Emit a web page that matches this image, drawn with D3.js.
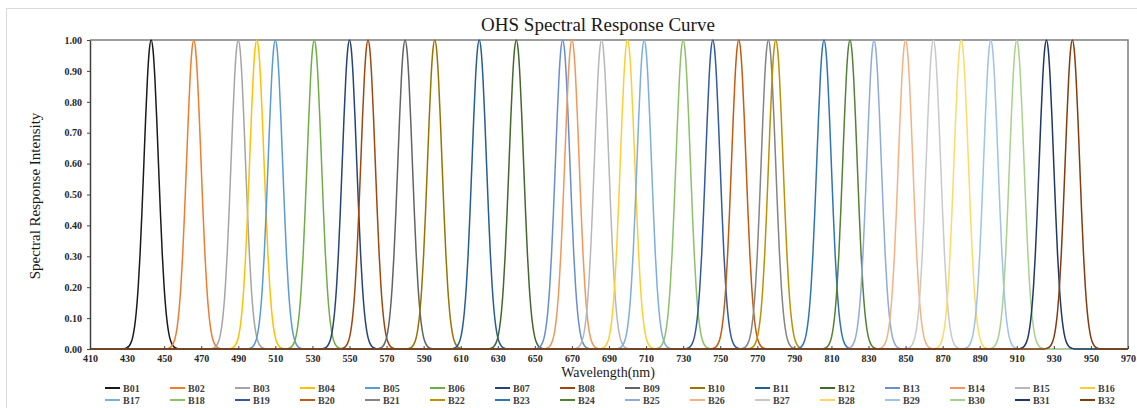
<!DOCTYPE html>
<html>
<head>
<meta charset="utf-8">
<script src="https://cdn.jsdelivr.net/npm/d3@7"></script>
<style>
  body { margin: 0; background: #fff; }
  text { font-family: "Liberation Serif", "Times New Roman", serif; }
</style>
</head>
<body>
<svg id="chart" width="1137" height="408"></svg>
<script>
const bands = ['B01','B02','B03','B04','B05','B06','B07','B08','B09','B10','B11','B12','B13','B14','B15','B16',
               'B17','B18','B19','B20','B21','B22','B23','B24','B25','B26','B27','B28','B29','B30','B31','B32'];
// peak wavelength of each band (nm)
const centers = [443, 466, 490, 500, 510, 531, 550, 560, 580, 596, 620, 640, 665, 670, 686, 700,
                 709, 730, 746, 760, 776, 780, 806, 820, 833, 850, 865, 880, 896, 910, 926, 940];
const colors = ['#1a1a1a','#ed7d31','#a5a5a5','#ffc000','#5b9bd5','#70ad47','#264478','#9e480e',
                '#636363','#997300','#255e91','#43682b','#698ed0','#f1975a','#b7b7b7','#ffcd33',
                '#7cafdd','#8cc168','#335aa1','#c55a11','#848484','#bf9000','#2e75b6','#548235',
                '#8faadc','#f4b183','#c9c9c9','#ffd966','#9dc3e6','#a9d18e','#203864','#843c0c'];
// shared response shape: offset from the peak (nm) and relative response
const profileOffsets = [-15,-14,-13,-12,-11,-10,-9,-8,-7,-6,-5,-4,-3,-2,-1,0,1,2,3,4,5,6,7,8,9,10,11,12,13,14,15];
const profileValues  = [0,0.002,0.004,0.009,0.019,0.037,0.07,0.122,0.2,0.306,0.44,0.591,0.744,0.877,0.968,1,
                        0.968,0.877,0.744,0.591,0.44,0.306,0.2,0.122,0.07,0.037,0.019,0.009,0.004,0.002,0];
const xTicks = [410,430,450,470,490,510,530,550,570,590,610,630,650,670,690,710,730,750,770,790,810,830,850,870,890,910,930,950,970];
const yTicks = [0,0.1,0.2,0.3,0.4,0.5,0.6,0.7,0.8,0.9,1.0];
const xDomain = [410, 970];

const svg = d3.select('#chart');
const plotLeft = 90, plotRight = 1128, plotTop = 40, plotBottom = 349;

// outer chart border
svg.append('rect')
  .attr('x', 6.5).attr('y', 8.5)
  .attr('width', 1140).attr('height', 410)
  .attr('fill', 'none')
  .attr('stroke', '#d9d9d9');

const x = d3.scaleLinear().domain(xDomain).range([plotLeft, plotRight]);
const y = d3.scaleLinear().domain([0, 1]).range([plotBottom, plotTop]);

// plot frame top/right
svg.append('path')
  .attr('d', `M${plotLeft},${plotTop}H${plotRight}V${plotBottom}`)
  .attr('fill', 'none')
  .attr('stroke', '#7f7f7f')
  .attr('stroke-width', 1.5);

const line = d3.line()
  .x(d => x(d[0]))
  .y(d => y(d[1]))
  .curve(d3.curveMonotoneX);

bands.forEach((b, i) => {
  const pts = [[xDomain[0], 0]];
  profileOffsets.forEach((o, j) => pts.push([centers[i] + o, profileValues[j]]));
  pts.push([xDomain[1], 0]);
  svg.append('path')
    .datum(pts)
    .attr('d', line)
    .attr('fill', 'none')
    .attr('stroke', colors[i])
    .attr('stroke-width', 1.5);
});

// y axis
const yAxis = svg.append('g')
  .attr('transform', `translate(${plotLeft},0)`)
  .call(d3.axisLeft(y).tickValues(yTicks).tickFormat(d3.format('.2f')).tickSize(3).tickSizeOuter(0).tickPadding(5));
yAxis.select('.domain').attr('stroke', '#404040').attr('stroke-width', 1.5);
yAxis.selectAll('.tick line').attr('stroke', '#404040');
yAxis.selectAll('text')
  .attr('font-size', 10).attr('font-weight', 'bold').attr('fill', '#262626');

// x axis (ticks point inward)
const xAxis = svg.append('g')
  .attr('transform', `translate(0,${plotBottom})`)
  .call(d3.axisBottom(x).tickValues(xTicks).tickSize(-3).tickSizeOuter(0).tickPadding(6));
xAxis.select('.domain').remove();
xAxis.selectAll('.tick line').attr('stroke', '#404040');
xAxis.selectAll('text')
  .attr('font-size', 10).attr('font-weight', 'bold').attr('fill', '#262626');

// titles
svg.append('text')
  .attr('x', 598).attr('y', 31)
  .attr('text-anchor', 'middle')
  .attr('font-size', 19)
  .attr('fill', '#1a1a1a')
  .text('OHS Spectral Response Curve');

svg.append('text')
  .attr('x', 608).attr('y', 377)
  .attr('text-anchor', 'middle')
  .attr('font-size', 14)
  .attr('fill', '#1a1a1a')
  .text('Wavelength(nm)');

svg.append('text')
  .attr('transform', 'translate(40,196) rotate(-90)')
  .attr('text-anchor', 'middle')
  .attr('font-size', 15)
  .attr('fill', '#1a1a1a')
  .text('Spectral Response Intensity');

// legend, two rows of 16
const legend = svg.append('g');
bands.forEach((b, i) => {
  const col = i % 16, row = Math.floor(i / 16);
  const lx = 105 + col * 65, ly = 388 + row * 12;
  const g = legend.append('g').attr('transform', `translate(${lx},${ly})`);
  g.append('line')
    .attr('x1', 0).attr('x2', 15)
    .attr('stroke', colors[i]).attr('stroke-width', 2);
  g.append('text')
    .attr('x', 18).attr('y', 3.5)
    .attr('font-size', 10).attr('font-weight', 'bold')
    .attr('fill', '#404040')
    .text(b);
});
</script>
</body>
</html>
